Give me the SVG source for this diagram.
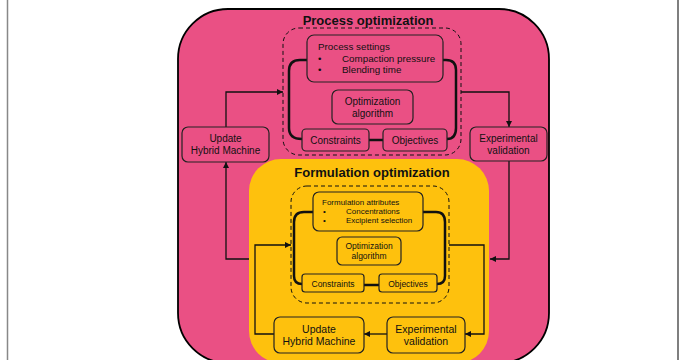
<svg xmlns="http://www.w3.org/2000/svg" width="685" height="360" viewBox="0 0 685 360">
<defs>
<style>
text{font-family:"Liberation Sans",Arial,sans-serif;fill:#111;}
.box{stroke:#222;stroke-width:1.2;}
.pk{fill:#EA5084;}
.yl{fill:#FEC10D;}
.dash{fill:none;stroke:#111;stroke-width:1;stroke-dasharray:4 3;}
.thick{fill:none;stroke:#111;stroke-width:2.5;}
.con{fill:none;stroke:#111;stroke-width:1.3;}
.title{font-weight:bold;font-size:13px;text-anchor:middle;}
.c{text-anchor:middle;}
</style>
<marker id="arr" viewBox="0 0 10 10" refX="10" refY="5" markerWidth="6" markerHeight="6" orient="auto" markerUnits="userSpaceOnUse">
<path d="M0,0 L10,5 L0,10 z" fill="#111"/>
</marker>
</defs>
<rect x="0" y="0" width="685" height="360" fill="#fff"/>
<line x1="7.5" y1="0" x2="7.5" y2="360" stroke="#888" stroke-width="1.5"/>
<line x1="678" y1="0" x2="678" y2="360" stroke="#555" stroke-width="1.5"/>

<g id="process-optimization">
<rect x="178" y="9" width="371" height="354" rx="50" fill="#EA5084" stroke="#000" stroke-width="1.8"/>
<text class="title" x="368" y="25">Process optimization</text>
</g>

<g id="formulation-optimization">
<rect x="249" y="159" width="240" height="204" rx="32" class="yl"/>
<text class="title" x="372" y="177">Formulation optimization</text>
</g>

<g id="connectors">
<path class="thick" d="M307,60 H300 Q289,60 289,71 V128 Q289,139 302,139"/>
<path class="thick" d="M443,60 H446 Q456,60 456,70 V128 Q456,139 447,139"/>
<line class="thick" x1="369" y1="140" x2="383" y2="140"/>
<path class="thick" d="M313,212 H304 Q294,212 294,222 V276 Q294,284 302,284"/>
<path class="thick" d="M423,212 H436 Q445,212 445,222 V276 Q445,284 437,284"/>
<line class="thick" x1="364" y1="285" x2="379" y2="285"/>
<polyline class="con" points="226,127 226,92 283,92" marker-end="url(#arr)"/>
<polyline class="con" points="461,92 509,92 509,127" marker-end="url(#arr)"/>
<polyline class="con" points="249,259 226,259 226,162" marker-end="url(#arr)"/>
<polyline class="con" points="509,161 509,259 490,259" marker-end="url(#arr)"/>
<polyline class="con" points="449,245 484,245 484,334 465,334" marker-end="url(#arr)"/>
<line class="con" x1="387" y1="334" x2="364" y2="334" marker-end="url(#arr)"/>
<polyline class="con" points="274,334 255,334 255,245 291,245" marker-end="url(#arr)"/>
</g>

<g id="process-dashed">
<rect x="283" y="28" width="178" height="127" rx="16" class="dash"/>
</g>

<g id="process-settings">
<rect x="307" y="35" width="136" height="47" rx="7" class="box pk"/>
<text x="318" y="50" font-size="9.8">Process settings</text>
<text x="318" y="62" font-size="9.8">•</text>
<text x="342" y="62" font-size="9.8">Compaction pressure</text>
<text x="318" y="73" font-size="9.8">•</text>
<text x="342" y="73" font-size="9.8">Blending time</text>
</g>

<g id="process-algorithm">
<rect x="332" y="90" width="81" height="34" rx="6" class="box pk"/>
<text class="c" x="372.5" y="105" font-size="10">Optimization</text>
<text class="c" x="372.5" y="117" font-size="10">algorithm</text>
</g>

<g id="process-constraints">
<rect x="302" y="129" width="67" height="22" rx="4" class="box pk"/>
<text class="c" x="335.5" y="144" font-size="10">Constraints</text>
</g>

<g id="process-objectives">
<rect x="383" y="129" width="64" height="22" rx="4" class="box pk"/>
<text class="c" x="415" y="144" font-size="10">Objectives</text>
</g>

<g id="process-update">
<rect x="182" y="127" width="87" height="35" rx="6" class="box pk"/>
<text class="c" x="225.5" y="142" font-size="10">Update</text>
<text class="c" x="225.5" y="154" font-size="10">Hybrid Machine</text>
</g>

<g id="process-validation">
<rect x="470" y="127" width="77" height="34" rx="6" class="box pk"/>
<text class="c" x="508.5" y="142" font-size="10">Experimental</text>
<text class="c" x="508.5" y="154" font-size="10">validation</text>
</g>

<g id="formulation-dashed">
<rect x="291" y="186" width="158" height="117" rx="16" class="dash"/>
</g>

<g id="formulation-attributes">
<rect x="313" y="192" width="110" height="39" rx="6" class="box yl"/>
<text x="322" y="205" font-size="8">Formulation attributes</text>
<text x="323" y="214" font-size="8">•</text>
<text x="346" y="214" font-size="8">Concentrations</text>
<text x="323" y="223" font-size="8">•</text>
<text x="346" y="223" font-size="8">Excipient selection</text>
</g>

<g id="formulation-algorithm">
<rect x="337" y="237" width="64" height="28" rx="5" class="box yl"/>
<text class="c" x="369" y="249" font-size="8.5">Optimization</text>
<text class="c" x="369" y="259" font-size="8.5">algorithm</text>
</g>

<g id="formulation-constraints">
<rect x="302" y="274" width="62" height="18" rx="3" class="box yl"/>
<text class="c" x="333" y="286.5" font-size="8.5">Constraints</text>
</g>

<g id="formulation-objectives">
<rect x="379" y="274" width="58" height="18" rx="3" class="box yl"/>
<text class="c" x="408" y="286.5" font-size="8.5">Objectives</text>
</g>

<g id="formulation-update">
<rect x="274" y="317" width="90" height="36" rx="6" class="box yl"/>
<text class="c" x="319" y="333" font-size="10.5">Update</text>
<text class="c" x="319" y="345" font-size="10.5">Hybrid Machine</text>
</g>

<g id="formulation-validation">
<rect x="387" y="317" width="78" height="36" rx="6" class="box yl"/>
<text class="c" x="426" y="333" font-size="10.5">Experimental</text>
<text class="c" x="426" y="345" font-size="10.5">validation</text>
</g>
</svg>
